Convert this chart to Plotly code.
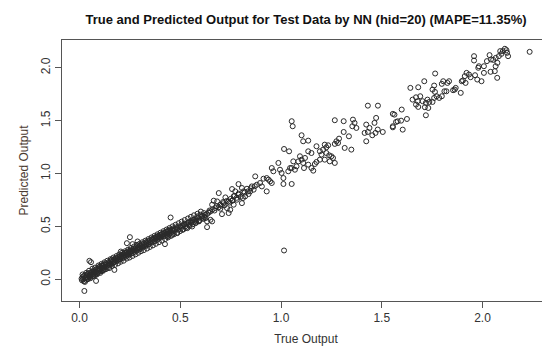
import plotly.graph_objects as go

# Dense band, true output 0.00-0.15
x1 = [0.010,0.012,0.015,0.018,0.020,0.022,0.025,0.028,0.030,0.032,0.035,0.038,0.040,0.042,0.045,0.048,0.050,0.052,0.055,0.058,0.060,0.062,0.065,0.068,0.070,0.072,0.075,0.078,0.080,0.082,0.085,0.088,0.090,0.092,0.095,0.098,0.100,0.102,0.105,0.108,0.110,0.112,0.115,0.118,0.120,0.122,0.125,0.128,0.130,0.133,0.136,0.140,0.143,0.146,0.150]
y1 = [0.005,-0.010,0.020,0.000,0.030,-0.020,0.010,0.040,0.015,-0.005,0.035,0.020,0.050,0.005,0.030,0.060,0.025,0.045,0.010,0.055,0.040,0.070,0.030,0.060,0.085,0.050,0.065,0.040,0.090,0.070,0.055,0.100,0.080,0.060,0.105,0.085,0.120,0.095,0.075,0.110,0.130,0.100,0.085,0.125,0.140,0.110,0.095,0.135,0.150,0.120,0.140,0.110,0.160,0.135,0.150]

# Dense band, 0.15-0.30
x2 = [0.152,0.155,0.158,0.160,0.163,0.166,0.170,0.172,0.175,0.178,0.180,0.183,0.186,0.190,0.192,0.195,0.198,0.200,0.203,0.206,0.210,0.212,0.215,0.218,0.220,0.223,0.226,0.230,0.232,0.235,0.238,0.240,0.243,0.246,0.250,0.253,0.256,0.260,0.262,0.265,0.268,0.270,0.273,0.276,0.280,0.283,0.286,0.290,0.293,0.296,0.300]
y2 = [0.170,0.140,0.160,0.185,0.150,0.175,0.160,0.190,0.165,0.180,0.200,0.170,0.195,0.180,0.210,0.185,0.200,0.220,0.190,0.210,0.230,0.200,0.215,0.240,0.205,0.225,0.250,0.215,0.235,0.255,0.225,0.245,0.265,0.235,0.255,0.270,0.245,0.265,0.280,0.250,0.270,0.290,0.260,0.280,0.300,0.270,0.290,0.305,0.280,0.300,0.320]

# Dense band, 0.30-0.45
x3 = [0.303,0.306,0.310,0.313,0.316,0.320,0.323,0.326,0.330,0.333,0.336,0.340,0.343,0.346,0.350,0.353,0.356,0.360,0.363,0.366,0.370,0.373,0.376,0.380,0.383,0.386,0.390,0.393,0.396,0.400,0.403,0.406,0.410,0.413,0.416,0.420,0.423,0.426,0.430,0.433,0.436,0.440,0.443,0.446,0.450]
y3 = [0.290,0.310,0.330,0.300,0.320,0.340,0.310,0.330,0.350,0.320,0.340,0.360,0.330,0.350,0.370,0.345,0.360,0.380,0.350,0.375,0.390,0.360,0.385,0.400,0.370,0.395,0.410,0.385,0.400,0.420,0.395,0.415,0.430,0.405,0.425,0.440,0.410,0.435,0.450,0.420,0.445,0.460,0.430,0.455,0.470]

# Band, 0.45-0.87
x4 = [0.455,0.460,0.465,0.470,0.475,0.480,0.490,0.495,0.505,0.512,0.520,0.525,0.530,0.540,0.545,0.555,0.560,0.570,0.575,0.580,0.590,0.595,0.605,0.610,0.620,0.625,0.640,0.645,0.660,0.670,0.680,0.690,0.705,0.712,0.720,0.730,0.745,0.750,0.760,0.770,0.780,0.790,0.800,0.820,0.835,0.850,0.870]
y4 = [0.440,0.465,0.480,0.455,0.475,0.490,0.470,0.500,0.485,0.505,0.525,0.500,0.520,0.540,0.515,0.535,0.560,0.545,0.570,0.555,0.580,0.560,0.590,0.600,0.590,0.610,0.630,0.650,0.660,0.650,0.690,0.680,0.695,0.730,0.700,0.740,0.725,0.760,0.745,0.790,0.770,0.810,0.780,0.820,0.830,0.860,0.880]

# Points 0.43-0.92
x5 = [0.913,0.896,0.880,0.872,0.905,0.789,0.806,0.831,0.847,0.839,0.822,0.811,0.789,0.773,0.765,0.781,0.757,0.691,0.724,0.740,0.715,0.699,0.683,0.666,0.658,0.674,0.699,0.732,0.748,0.650,0.633,0.617,0.600,0.609,0.584,0.567,0.551,0.535,0.518,0.502,0.485,0.469,0.452,0.444,0.436,0.535,0.510,0.485,0.460,0.576,0.559,0.592,0.625,0.633,0.650,0.658,0.633,0.452,0.707,0.740,0.765,0.806,0.864,0.855,0.757,0.814]
y5 = [0.951,0.910,0.894,0.973,0.878,0.900,0.863,0.856,0.831,0.806,0.784,0.768,0.799,0.831,0.784,0.752,0.743,0.815,0.774,0.736,0.720,0.705,0.736,0.743,0.705,0.673,0.667,0.673,0.657,0.641,0.616,0.626,0.610,0.578,0.594,0.562,0.547,0.531,0.515,0.499,0.483,0.468,0.452,0.420,0.404,0.483,0.468,0.436,0.420,0.531,0.499,0.547,0.578,0.547,0.562,0.547,0.493,0.584,0.616,0.626,0.705,0.720,0.847,0.878,0.853,0.831]

# Scattered outliers
x6 = [0.024,0.049,0.057,0.250,0.288,0.263,0.235,0.205,0.082,0.424,0.173,0.386,1.015]
y6 = [-0.111,0.174,0.161,0.398,0.357,0.332,0.341,0.262,-0.016,0.332,0.088,0.404,0.272]

# Points 0.93-1.51
x7 = [1.053,1.058,1.102,1.110,1.135,1.015,1.040,1.267,1.311,1.357,1.365,1.354,1.374,1.311,1.337,1.423,1.439,1.431,1.415,1.472,1.464,1.480,1.469,1.453,1.423,1.505,1.176,1.217,1.225,1.234,1.275,1.283,1.267,1.288,1.316,1.349,1.135,1.151,1.193,1.201,1.225,1.209,1.239,1.250,1.258,1.267,1.242,1.217,1.193,1.176,1.168,1.151,1.160,1.135,1.119,1.094,1.102,1.086,1.061,1.053,1.036,1.045,1.077,1.069,1.110,1.114,0.987,0.954,0.962,0.995,1.003,1.012,0.929,0.938,0.946,0.954,1.012,1.053,0.929]
y7 = [1.495,1.447,1.362,1.305,1.311,1.232,1.210,1.504,1.495,1.510,1.479,1.447,1.431,1.393,1.352,1.463,1.431,1.393,1.384,1.526,1.479,1.416,1.384,1.362,1.305,1.393,1.258,1.273,1.248,1.267,1.305,1.289,1.280,1.330,1.242,1.226,1.210,1.194,1.210,1.179,1.194,1.226,1.172,1.163,1.147,1.100,1.115,1.131,1.131,1.109,1.090,1.052,1.027,1.084,1.147,1.163,1.131,1.115,1.115,1.052,1.021,1.052,1.068,1.036,1.100,1.052,1.100,1.052,1.021,1.036,1.005,0.957,0.957,0.942,0.926,0.910,0.901,0.901,0.831]

# Points 1.43-2.24
x8 = [2.234,2.119,2.111,2.122,2.127,2.101,2.088,2.094,2.081,2.066,2.074,2.053,2.035,2.042,2.022,2.007,1.982,1.958,1.958,1.979,2.007,2.040,2.061,2.073,2.065,1.921,1.933,1.912,1.941,1.963,1.897,1.903,1.916,1.892,1.974,1.995,1.862,1.854,1.867,1.834,1.826,1.805,1.798,1.765,1.821,1.811,1.798,1.772,1.785,1.760,1.752,1.764,1.711,1.681,1.642,1.653,1.670,1.678,1.691,1.703,1.719,1.727,1.736,1.752,1.714,1.731,1.670,1.681,1.719,1.760,1.431,1.481,1.599,1.563,1.555,1.579,1.596,1.625,1.571,1.555,1.555,1.604]
y8 = [2.151,2.167,2.180,2.142,2.110,2.158,2.158,2.132,2.110,2.094,2.047,2.075,2.120,2.079,2.063,2.015,2.015,2.110,2.069,2.000,1.952,1.962,1.968,1.905,2.015,1.952,1.936,1.921,1.911,1.930,1.873,1.880,1.857,1.763,1.889,1.873,1.794,1.788,1.810,1.873,1.857,1.873,1.848,1.946,1.778,1.778,1.731,1.731,1.715,1.832,1.794,1.772,1.873,1.816,1.810,1.699,1.721,1.684,1.731,1.684,1.668,1.699,1.677,1.677,1.627,1.620,1.652,1.630,1.551,1.715,1.642,1.642,1.605,1.557,1.564,1.494,1.500,1.516,1.488,1.447,1.437,1.415]

# Extra points widening the dense band, 0.01-0.62
x9 = [0.015,0.027,0.033,0.041,0.047,0.053,0.064,0.071,0.077,0.086,0.094,0.103,0.109,0.117,0.124,0.131,0.138,0.147,0.154,0.161,0.168,0.176,0.184,0.191,0.197,0.204,0.211,0.219,0.227,0.234,0.241,0.248,0.255,0.263,0.271,0.278,0.285,0.292,0.298,0.305,0.312,0.319,0.327,0.335,0.342,0.349,0.357,0.364,0.372,0.379,0.387,0.394,0.402,0.409,0.417,0.425,0.432,0.439,0.447,0.454,0.462,0.469,0.477,0.484,0.492,0.499,0.507,0.515,0.522,0.531,0.538,0.547,0.553,0.562,0.568,0.577,0.586,0.593,0.602,0.615]
y9 = [0.045,-0.025,0.060,0.000,0.080,0.020,0.100,0.030,0.110,0.045,0.130,0.060,0.145,0.080,0.160,0.095,0.175,0.105,0.190,0.125,0.205,0.135,0.220,0.150,0.235,0.165,0.250,0.175,0.265,0.195,0.280,0.205,0.295,0.220,0.310,0.235,0.325,0.250,0.335,0.265,0.350,0.275,0.365,0.290,0.380,0.305,0.395,0.320,0.410,0.335,0.425,0.350,0.440,0.365,0.455,0.380,0.470,0.395,0.485,0.410,0.500,0.425,0.515,0.440,0.530,0.455,0.545,0.470,0.560,0.490,0.575,0.505,0.590,0.520,0.605,0.535,0.620,0.550,0.640,0.570]

tick_vals = [0.0, 0.5, 1.0, 1.5, 2.0]
tick_text = ["0.0", "0.5", "1.0", "1.5", "2.0"]

true_output = x1 + x2 + x3 + x4 + x5 + x6 + x7 + x8 + x9
pred_output = y1 + y2 + y3 + y4 + y5 + y6 + y7 + y8 + y9

FONT = "Liberation Sans, Arial, sans-serif"

fig = go.Figure()
fig.add_trace(go.Scatter(
    x=true_output, y=pred_output, mode="markers",
    marker=dict(symbol="circle-open", size=5, color="#2a2a2a", line=dict(width=1, color="#2a2a2a")),
    showlegend=False, hoverinfo="skip",
))

axis_common = dict(
    showgrid=False, zeroline=False, showline=True, linecolor="#555555", linewidth=1,
    mirror=True, ticks="outside", ticklen=6, tickcolor="#555555", tickwidth=1,
    tickvals=tick_vals, ticktext=tick_text,
    tickfont=dict(family=FONT, size=12, color="#333333"),
)

fig.update_layout(
    width=550, height=351,
    margin=dict(l=54, r=8, t=32, b=58),
    paper_bgcolor="white", plot_bgcolor="white",
    title=dict(
        text="<b>True and Predicted Output for Test Data by NN (hid=20) (MAPE=11.35%)</b>",
        x=0.5, xref="paper", xanchor="center",
        y=1 - 11 / 351, yref="container", yanchor="middle",
        font=dict(family=FONT, size=13, color="#111111"),
    ),
    xaxis=dict(
        range=[-0.087, 2.335],
        title=dict(text="True Output", font=dict(family=FONT, size=12, color="#333333"), standoff=10),
        **axis_common,
    ),
    yaxis=dict(
        range=[-0.206, 2.263], tickangle=-90,
        title=dict(text="Predicted Output", font=dict(family=FONT, size=12, color="#4a3a30"), standoff=8),
        **axis_common,
    ),
)

fig.write_html("out.html")
